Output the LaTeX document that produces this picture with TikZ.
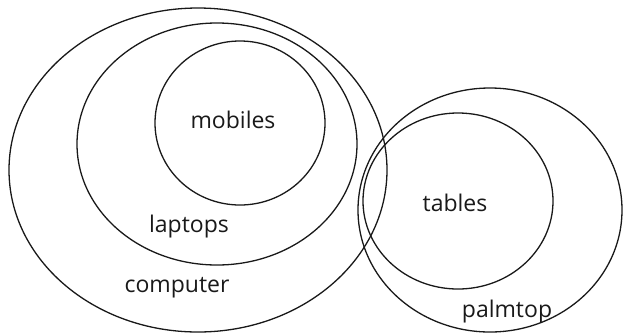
\documentclass[tikz,border=0pt]{standalone}
\usepackage{fontspec}
\setmainfont{Open Sans}
\usetikzlibrary{shapes.geometric}
\begin{document}
\begin{tikzpicture}[x=1pt,y=-1pt,
  set/.style={draw=black!90,line width=1.3pt,ellipse,inner sep=0pt},
  lbl/.style={text=black!90,font=\fontsize{23}{25}\selectfont,inner sep=0pt,anchor=base}]
\useasboundingbox (0,0) rectangle (624,333);
\node[set,minimum width=378pt,minimum height=324pt] (computer) at (198,170) {};
\node[set,minimum width=280pt,minimum height=242pt] (laptops) at (217,144) {};
\node[set,minimum width=170pt,minimum height=164pt] (mobiles) at (240,123) {};
\node[set,minimum width=264pt,minimum height=244pt] (palmtop) at (490,210) {};
\node[set,minimum width=190pt,minimum height=176pt] (tables) at (458,201) {};
\node[lbl] (tmobiles) at (233,128) {mobiles};
\node[lbl] (tlaptops) at (189,232) {laptops};
\node[lbl] (tcomputer) at (177,292) {computer};
\node[lbl] (ttables) at (455,211) {tables};
\node[lbl] (tpalmtop) at (507,317) {palmtop};
\end{tikzpicture}
\end{document}
